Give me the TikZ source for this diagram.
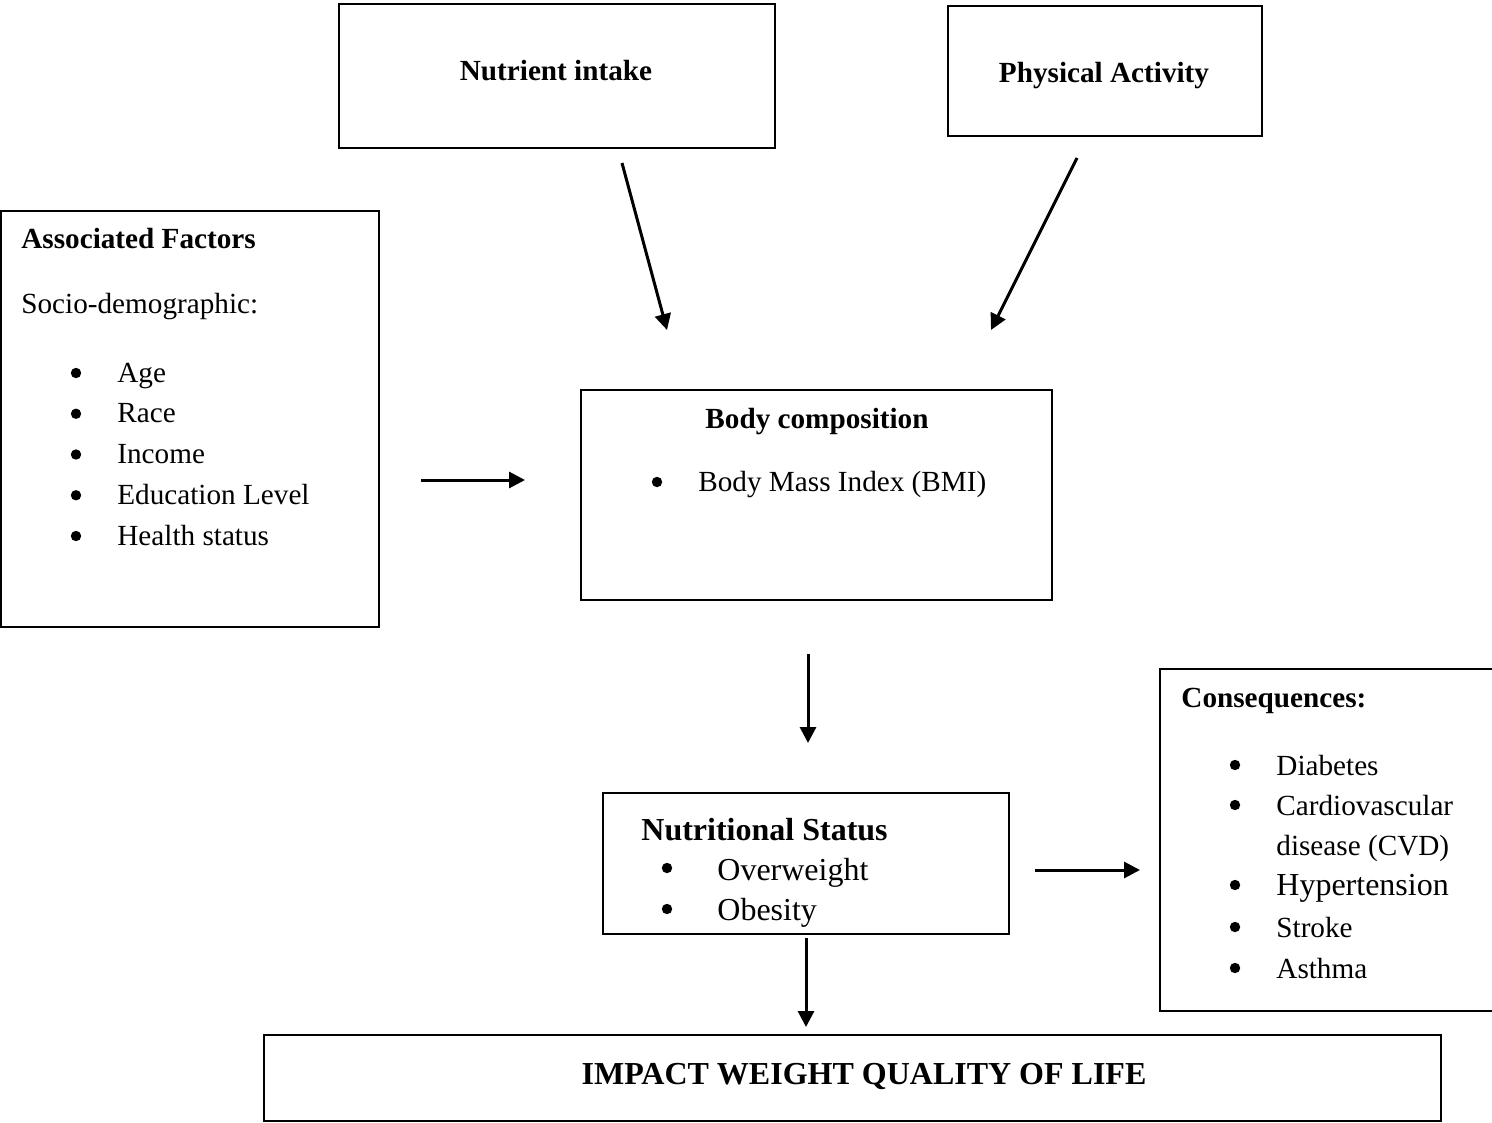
\documentclass[tikz,border=0pt]{standalone}
\usepackage{fontspec}
\setmainfont{Liberation Serif}
\usetikzlibrary{arrows.meta,fit}

\begin{document}
\begin{tikzpicture}[x=0.5pt, y=-0.5pt, >={Triangle[length=8pt,width=8pt]}]
  % Styles
  \tikzset{
    box/.style={draw, line width=1pt, inner sep=0pt},
    txt/.style={inner sep=0pt, anchor=base west, font=\fontsize{14.6}{17}\selectfont},
    bigtxt/.style={inner sep=0pt, anchor=base west, font=\fontsize{16}{19}\selectfont},
    head/.style={inner sep=0pt, anchor=base, font=\fontsize{14.6}{17}\selectfont\bfseries},
    bighead/.style={head, font=\fontsize{16}{19}\selectfont\bfseries},
    dot/.style={circle, fill=black, draw=none, inner sep=0pt, minimum size=5.2pt},
    arrow/.style={->, line width=1.5pt}
  }
  \useasboundingbox (0,0) rectangle (1492,1123);

  % Boxes
  \node[box, fit={(339,4) (775,148)}] (nutrient) {};
  \node[box, fit={(948,6) (1262,136)}] (activity) {};
  \node[box, fit={(1,211) (379,627)}] (factors) {};
  \node[box, fit={(581,390) (1052,600)}] (bodycomp) {};
  \node[box, fit={(603,793) (1009,934)}] (status) {};
  \node[box, fit={(1160,669) (1500,1011)}] (conseq) {};
  \node[box, fit={(264,1035) (1441,1121)}] (impact) {};

  % Texts
  \node[head] (nutrienttxt) at (556,81) {Nutrient intake};
  \node[head] (activitytxt) at (1104,83) {Physical Activity};
  \node[head, anchor=base west] (factorstxt) at (21,249) {Associated Factors};
  \node[txt] (socio) at (21,313) {Socio-demographic:};
  \foreach \t [count=\i] in {Age, Race, Income, Education Level, Health status} {
    \node[dot] (fdot\i) at (76,{373+40.75*(\i-1)}) {};
    \node[txt] (factor\i) at (117,{382+40.75*(\i-1)}) {\t};
  }

  \node[head] (bodycomptxt) at (817,428) {Body composition};
  \node[dot] (bmidot) at (657,482) {};
  \node[txt] (bmi) at (698,491) {Body Mass Index (BMI)};

  \node[bighead, anchor=base west] (statustxt) at (641,840) {Nutritional Status};
  \node[dot] (owdot) at (667,868) {};
  \node[bigtxt] (overweight) at (717,880) {Overweight};
  \node[dot] (obdot) at (667,909) {};
  \node[bigtxt] (obesity) at (717,920) {Obesity};

  \node[head, anchor=base west] (conseqtxt) at (1181,707) {Consequences:};
  \node[dot] (ddot) at (1235,765) {};
  \node[txt] (diabetes) at (1276,775) {Diabetes};
  \node[dot] (cdot) at (1235,805) {};
  \node[txt] (cvd) at (1276,815) {Cardiovascular};
  \node[txt] (cvdb) at (1276,855) {disease (CVD)};
  \node[dot] (hdot) at (1235,885) {};
  \node[bigtxt] (hyper) at (1276,895) {Hypertension};
  \node[dot] (sdot) at (1235,927) {};
  \node[txt] (stroke) at (1276,937) {Stroke};
  \node[dot] (adot) at (1235,968) {};
  \node[txt] (asthma) at (1276,978) {Asthma};

  \node[bighead] (impacttxt) at (864,1084) {IMPACT WEIGHT QUALITY OF LIFE};

  % Arrow ends
  \coordinate (nutrientout) at (622,163);
  \coordinate (activityout) at (1077,158);
  \coordinate (bodycompinA) at (667,330);
  \coordinate (bodycompinB) at (991,330);
  \coordinate (factorsout) at (421,480);
  \coordinate (bodycompinC) at (525,480);
  \coordinate (bodycompout) at (808,654);
  \coordinate (statusin) at (808,743);
  \coordinate (statusout) at (1035,870);
  \coordinate (conseqin) at (1140,870);
  \coordinate (statusdown) at (806,938);
  \coordinate (impactin) at (806,1027);

  % Arrows
  \draw[arrow] (nutrientout) -- (bodycompinA);
  \draw[arrow] (activityout) -- (bodycompinB);
  \draw[arrow] (factorsout) -- (bodycompinC);
  \draw[arrow] (bodycompout) -- (statusin);
  \draw[arrow] (statusout) -- (conseqin);
  \draw[arrow] (statusdown) -- (impactin);
\end{tikzpicture}
\end{document}
